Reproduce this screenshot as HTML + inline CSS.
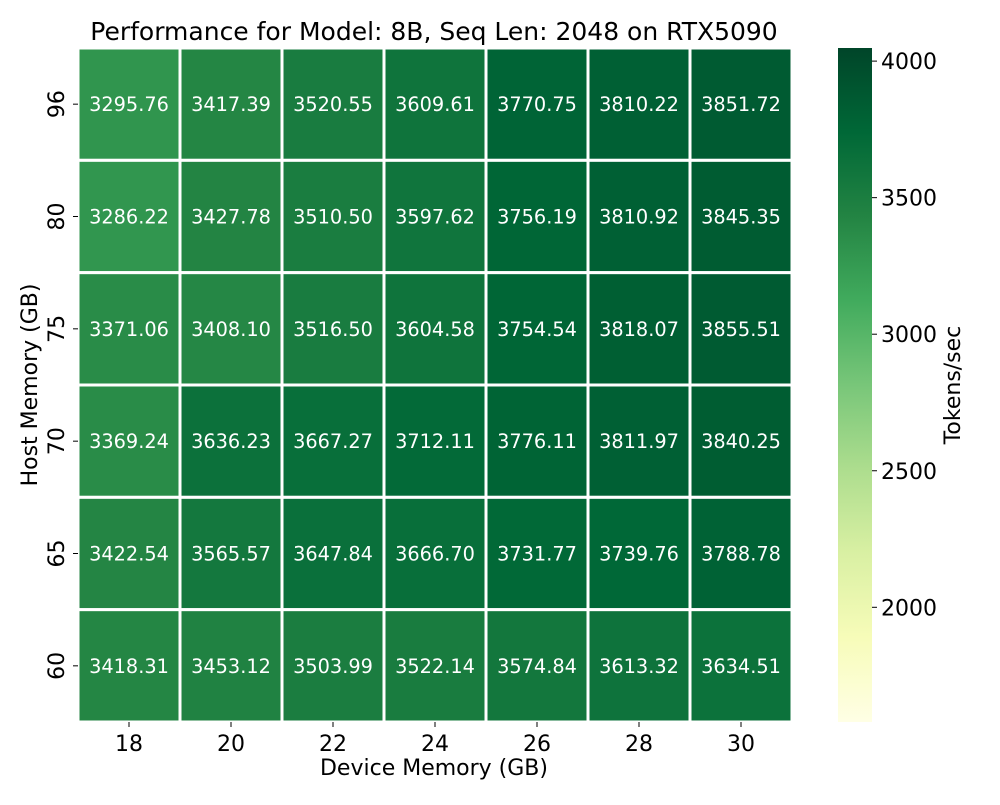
<!DOCTYPE html>
<html><head><meta charset="utf-8"><style>
body{margin:0;background:#fff;font-family:"Liberation Sans","DejaVu Sans",sans-serif;}
</style></head><body>
<svg id="c" width="1000" height="800" xmlns="http://www.w3.org/2000/svg" font-family="DejaVu Sans, Liberation Sans, sans-serif">
<defs><linearGradient id="cb" x1="0" y1="1" x2="0" y2="0"></linearGradient></defs>
</svg>
<script>
const cols=["18","20","22","24","26","28","30"];
const rows=["96","80","75","70","65","60"];
const values=[
[3295.76,3417.39,3520.55,3609.61,3770.75,3810.22,3851.72],
[3286.22,3427.78,3510.50,3597.62,3756.19,3810.92,3845.35],
[3371.06,3408.10,3516.50,3604.58,3754.54,3818.07,3855.51],
[3369.24,3636.23,3667.27,3712.11,3776.11,3811.97,3840.25],
[3422.54,3565.57,3647.84,3666.70,3731.77,3739.76,3788.78],
[3418.31,3453.12,3503.99,3522.14,3574.84,3613.32,3634.51]];
const cbTicks=[2000,2500,3000,3500,4000];
const vmin=1580,vmax=4048;
const stops=["#ffffe5","#f7fcb9","#d9f0a3","#addd8e","#78c679","#41ab5d","#238443","#006837","#004529"];
const NS="http://www.w3.org/2000/svg";
const svg=document.getElementById('c');
function hx(h){return [1,3,5].map(i=>parseInt(h.substr(i,2),16));}
function cmap(v){let t=Math.max(0,Math.min(1,(v-vmin)/(vmax-vmin)))*(stops.length-1);let i=Math.min(Math.floor(t),stops.length-2),f=t-i;let a=hx(stops[i]),b=hx(stops[i+1]);return `rgb(${a.map((x,k)=>Math.round(x+(b[k]-x)*f)).join(',')})`;}
function el(tag,attrs,txt){const e=document.createElementNS(NS,tag);for(const k in attrs)e.setAttribute(k,attrs[k]);if(txt!==undefined)e.textContent=txt;svg.appendChild(e);return e;}
const X0=78,X1=792,Y0=48,Y1=722;
const cw=(X1-X0)/cols.length,ch=(Y1-Y0)/rows.length;
const xPos=i=>X0+i*cw, yPos=j=>Y0+j*ch;
rows.forEach((r,j)=>cols.forEach((c,i)=>{
 const v=values[j][i];
 const R=el('rect',{x:xPos(i),y:yPos(j),width:cw,height:ch,fill:cmap(v),stroke:'#fff','stroke-width':3});
 
 
 const T=el('text',{x:xPos(i)+cw/2,y:yPos(j)+ch/2+7,'text-anchor':'middle','font-size':19.3,fill:'#fff'},v.toFixed(2));
 
 
}));
cols.forEach((c,i)=>{
 el('line',{x1:xPos(i)+cw/2,x2:xPos(i)+cw/2,y1:Y1,y2:Y1+5,stroke:'#000'});
 const t=el('text',{x:xPos(i)+cw/2,y:Y1+29,'text-anchor':'middle','font-size':22},c);
 
 
});
rows.forEach((r,j)=>{
 const cy=yPos(j)+ch/2;
 el('line',{x1:X0-5,x2:X0,y1:cy,y2:cy,stroke:'#000'});
 const t=el('text',{x:0,y:0,'text-anchor':'middle','font-size':22,transform:`translate(64,${cy}) rotate(-90)`},r);
 
 
});
let t=el('text',{x:434,y:775,'text-anchor':'middle','font-size':22},'Device Memory (GB)');

t=el('text',{x:0,y:0,'text-anchor':'middle','font-size':22,transform:'translate(37,385) rotate(-90)'},'Host Memory (GB)');

t=el('text',{x:434,y:40,'text-anchor':'middle','font-size':25},'Performance for Model: 8B, Seq Len: 2048 on RTX5090');

const g=svg.querySelector('#cb');
stops.forEach((s,i)=>{const st=document.createElementNS(NS,'stop');st.setAttribute('offset',i/(stops.length-1));st.setAttribute('stop-color',s);g.appendChild(st);});
const CX=838,CW=34;
const cbY=v=>Y1-(v-vmin)/(vmax-vmin)*(Y1-Y0);
const cb=el('rect',{x:CX,y:Y0,width:CW,height:Y1-Y0,fill:'url(#cb)'});

cbTicks.forEach(v=>{
 const y=cbY(v);
 el('line',{x1:CX+CW,x2:CX+CW+5,y1:y,y2:y,stroke:'#000'});
 const tt=el('text',{x:CX+CW+9,y:y+8,'font-size':22},String(v));
 
});
t=el('text',{x:0,y:0,'text-anchor':'middle','font-size':22,transform:'translate(960,385) rotate(-90)'},'Tokens/sec');

</script>
</body></html>
